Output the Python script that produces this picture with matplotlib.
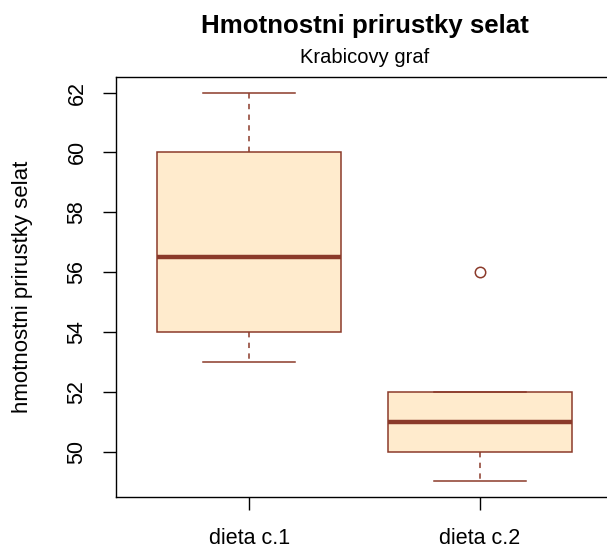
import matplotlib
matplotlib.use("Agg")
import matplotlib.pyplot as plt

# box statistics (weight gain of piglets per diet)
groups = ["dieta c.1", "dieta c.2"]
whis_lo = [53, 49]
q1 = [54, 50]
med = [56.5, 51]
q3 = [60, 52]
whis_hi = [62, 52]
fliers = [[], [56]]

edge = "#8B3A2A"
fill = "#FFEBCD"

plt.rcParams["font.family"] = ["Liberation Sans", "DejaVu Sans"]

W, H = 607, 548
fig = plt.figure(figsize=(W / 100, H / 100), dpi=100)
left, right, top, bottom = 116, 613, 77, 497
ax = fig.add_axes([left / W, (H - bottom) / H, (right - left) / W,
                   (bottom - top) / H])

stats = []
for i in range(len(groups)):
    stats.append({"label": groups[i], "whislo": whis_lo[i], "q1": q1[i],
                  "med": med[i], "q3": q3[i], "whishi": whis_hi[i],
                  "fliers": fliers[i]})

ax.bxp(stats, positions=[1, 2], widths=0.8, patch_artist=True,
       boxprops=dict(facecolor=fill, edgecolor=edge, linewidth=1.1),
       medianprops=dict(color=edge, linewidth=3.2, solid_capstyle="butt"),
       whiskerprops=dict(color=edge, linewidth=1.1, linestyle=(0, (3.5, 3.5))),
       capprops=dict(color=edge, linewidth=1.1),
       capwidths=0.4,
       flierprops=dict(marker="o", markersize=7.5, markerfacecolor="none",
                       markeredgecolor=edge, markeredgewidth=1.1))

ax.set_xlim(0.42, 2.58)
ax.set_ylim(48.48, 62.52)
ax.set_yticks([50, 52, 54, 56, 58, 60, 62])
ax.set_xticks([1, 2])
ax.set_xticklabels(groups)
ax.tick_params(axis="both", labelsize=15.5, length=9.5, width=1,
               direction="out")
ax.tick_params(axis="x", pad=13)
ax.tick_params(axis="y", pad=11)
plt.setp(ax.get_yticklabels(), rotation=90, va="center")
for s in ax.spines.values():
    s.set_linewidth(1)

ax.set_ylabel("hmotnostni prirustky selat", fontsize=16)
ax.yaxis.set_label_coords((23 - left) / (right - left), 0.5)
ax.yaxis.label.set_va("center")

fig.text(365 / W, 1 - 33 / H, "Hmotnostni prirustky selat", ha="center",
         va="baseline", fontsize=18.6, fontweight="bold")
fig.text(365 / W, 1 - 63 / H, "Krabicovy graf", ha="center", va="baseline",
         fontsize=14.5)

fig.savefig("out.png", dpi=100)
